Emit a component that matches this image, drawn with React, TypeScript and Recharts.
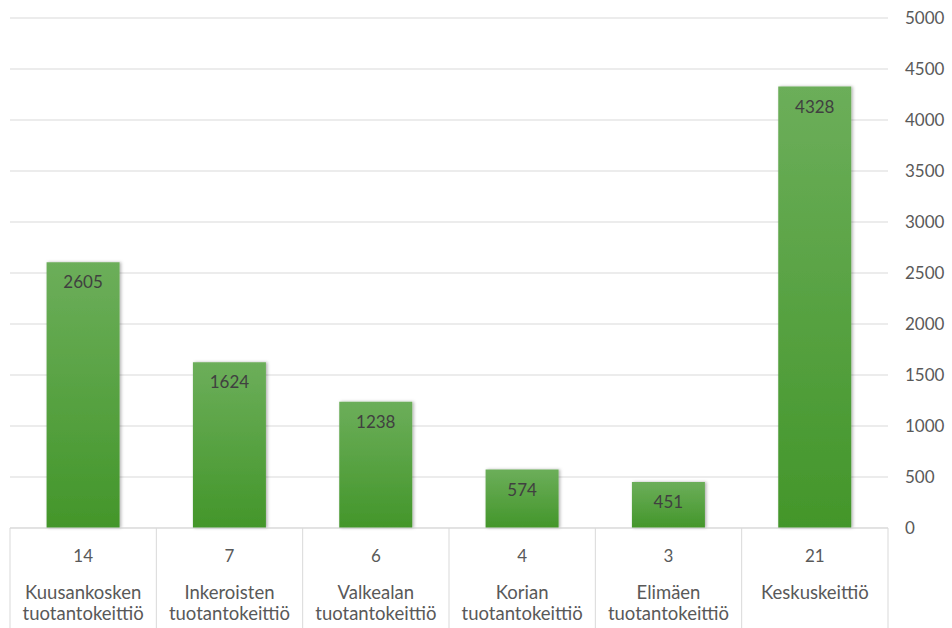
import { Bar, BarChart, CartesianGrid, LabelList, XAxis, YAxis } from "recharts";

const kitchens = [
  "Kuusankosken tuotantokeittiö",
  "Inkeroisten tuotantokeittiö",
  "Valkealan tuotantokeittiö",
  "Korian tuotantokeittiö",
  "Elimäen tuotantokeittiö",
  "Keskuskeittiö",
];
const units = [14, 7, 6, 4, 3, 21];
const portions = [2605, 1624, 1238, 574, 451, 4328];
const yTicks = [0, 500, 1000, 1500, 2000, 2500, 3000, 3500, 4000, 4500, 5000];

const data = kitchens.map((name, i) => ({
  key: `${units[i]}|${name}`,
  units: units[i],
  name,
  value: portions[i],
}));

const FONT = "Lato, 'Open Sans', sans-serif";
const TEXT = "#595959";
const GRID = "#d9d9d9";
const TABLE_DEPTH = 110;

// Draws one cell of the category table under the plot
function TableTick(props: any) {
  const { x, y, payload, index, visibleTicksCount } = props;
  const half = payload.offset ?? 73;
  const [num, name] = String(payload.value).split("|");
  const words = name.split(" ");
  const top = y - 8;
  const isLast = index === (visibleTicksCount ?? kitchens.length) - 1;
  return (
    <g>
      <line x1={x - half} x2={x - half} y1={top} y2={top + TABLE_DEPTH} stroke={GRID} />
      {isLast && (
        <line x1={x + half} x2={x + half} y1={top} y2={top + TABLE_DEPTH} stroke={GRID} />
      )}
      <text x={x} y={top + 34} textAnchor="middle" fill={TEXT} fontSize={17} fontFamily={FONT}>
        {num}
      </text>
      {words.map((w: string, i: number) => (
        <text
          key={i}
          x={x}
          y={top + 71 + i * 21}
          textAnchor="middle"
          fill={TEXT}
          fontSize={18.5}
          fontFamily={FONT}
        >
          {w}
        </text>
      ))}
    </g>
  );
}

export default function App() {
  return (
    <div style={{ position: "absolute", left: 0, top: 0, background: "#fff" }}>
      <BarChart
        width={952}
        height={628}
        data={data}
        margin={{ top: 18, right: 0, left: 10, bottom: 0 }}
        barCategoryGap="25%"
      >
        <defs>
          <linearGradient id="barFill" x1="0" y1="0" x2="0" y2="1">
            <stop offset="0%" stopColor="#6cae5a" />
            <stop offset="100%" stopColor="#43962a" />
          </linearGradient>
          <filter id="barShadow" x="-10%" y="-5%" width="125%" height="110%">
            <feDropShadow dx={1.5} dy={0} stdDeviation={1.5} floodColor="#000" floodOpacity={0.3} />
          </filter>
        </defs>
        <CartesianGrid vertical={false} stroke={GRID} />
        <XAxis
          dataKey="key"
          interval={0}
          axisLine={{ stroke: GRID }}
          tickLine={false}
          height={100}
          tick={<TableTick />}
        />
        <YAxis
          orientation="right"
          domain={[0, 5000]}
          ticks={yTicks}
          axisLine={false}
          tickLine={false}
          tickMargin={11}
          width={64}
          tick={{ fill: TEXT, fontSize: 17, fontFamily: FONT, textAnchor: "start" }}
        />
        <Bar dataKey="value" fill="url(#barFill)" filter="url(#barShadow)" isAnimationActive={false}>
          <LabelList
            dataKey="value"
            position="insideTop"
            offset={14}
            fill="#404040"
            fontSize={17}
            fontFamily={FONT}
          />
        </Bar>
      </BarChart>
    </div>
  );
}
